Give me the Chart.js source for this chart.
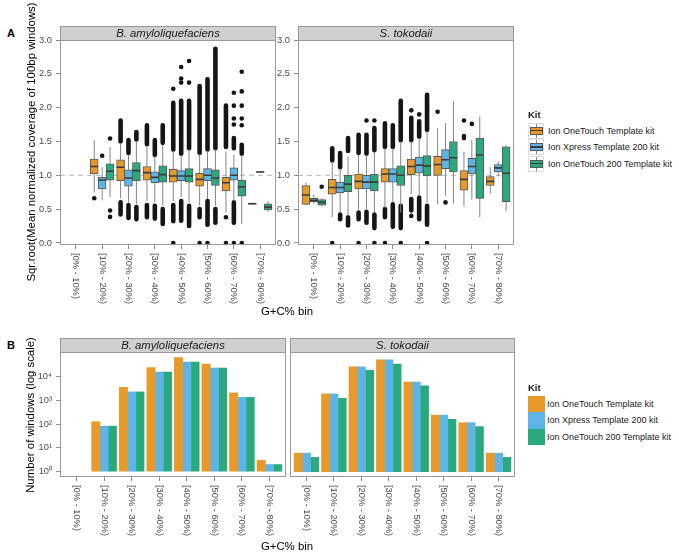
<!DOCTYPE html>
<html>
<head>
<meta charset="utf-8">
<script src="https://cdn.jsdelivr.net/npm/chart.js@4.4.1/dist/chart.umd.min.js"></script>
<style>
  body { margin: 0; width: 679px; height: 560px; overflow: hidden; position: relative; background: #fff;
         font-family: "Liberation Sans", Arial, sans-serif; }
  canvas { position: absolute; }
  .t { position: absolute; white-space: nowrap; color: #1a1a1a; line-height: 1; }
  .panel-tag { font-weight: bold; font-size: 11px; color: #000; }
  .ytitle { font-size: 11.4px; color: #000; transform: translate(-50%, -50%) rotate(-90deg); }
  .xtitle { font-size: 11.4px; color: #000; transform: translate(-50%, -50%); }
  .ktitle { font-weight: bold; font-size: 9.5px; transform: translateY(-50%); }
  .ktext { font-size: 9px; transform: translateY(-50%); }
  .key { position: absolute; box-sizing: border-box; }
</style>
</head>
<body>
<script>
/* global Chart */

// ---- data ----
const BINS = ["[0% - 10%)", "[10% - 20%)", "[20% - 30%)", "[30% - 40%)",
              "[40% - 50%)", "[50% - 60%)", "[60% - 70%)", "[70% - 80%)"];
const KITS = ["Ion OneTouch Template kit", "Ion Xpress Template 200 kit", "Ion OneTouch 200 Template kit"];
const SPECIES = ["B. amyloliquefaciens", "S. tokodaii"];
const COVERAGE_TICKS = [0, 0.5, 1, 1.5, 2, 2.5, 3];
const COUNT_TICKS = [1, 10, 100, 1000, 10000];

// panel A: [lower whisker, q1, median, q3, upper whisker] per G+C bin
const amyOneTouch = [null, [0.75, 1.02, 1.13, 1.24, 1.52], [0.66, 0.92, 1.12, 1.23, 1.47], [0.62, 0.93, 1.04, 1.13, 1.43],
  [0.62, 0.90, 0.99, 1.09, 1.36], [0.55, 0.84, 0.94, 1.03, 1.31], [0.45, 0.77, 0.89, 0.97, 1.35], [0.57, 0.575, 0.58, 0.588, 0.595]];
const amyXpress = [null, [0.63, 0.80, 0.93, 0.97, 1.12], [0.60, 0.84, 0.96, 1.08, 1.30], [0.60, 0.89, 0.97, 1.05, 1.28],
  [0.68, 0.92, 0.99, 1.07, 1.30], [0.65, 0.92, 1.00, 1.10, 1.36], [0.62, 0.93, 1.00, 1.11, 1.30], [1.04, 1.045, 1.05, 1.055, 1.06]];
const amyOneTouch200 = [null, [0.68, 0.93, 1.06, 1.17, 1.42], [0.57, 0.92, 1.07, 1.19, 1.50], [0.55, 0.90, 1.01, 1.14, 1.45],
  [0.60, 0.90, 0.99, 1.10, 1.38], [0.55, 0.85, 0.96, 1.08, 1.38], [0.28, 0.69, 0.83, 0.93, 1.30], [0.46, 0.49, 0.53, 0.58, 0.62]];

const tokOneTouch = [[0.56, 0.57, 0.71, 0.85, 0.89], [0.38, 0.72, 0.82, 0.94, 1.20], [0.50, 0.80, 0.91, 1.02, 1.30], [0.52, 0.90, 1.02, 1.10, 1.40],
  [0.72, 1.01, 1.13, 1.24, 1.50], [0.57, 1.00, 1.16, 1.28, 1.70], [0.54, 0.78, 0.94, 1.07, 1.35], [0.73, 0.85, 0.91, 0.98, 1.12]];
const tokXpress = [[0.58, 0.61, 0.63, 0.66, 0.71], [0.45, 0.74, 0.82, 0.90, 1.10], [0.50, 0.80, 0.90, 1.00, 1.30], [0.60, 0.90, 1.02, 1.10, 1.40],
  [0.70, 1.03, 1.15, 1.27, 1.55], [0.70, 1.10, 1.23, 1.38, 1.77], [0.64, 1.02, 1.13, 1.25, 1.52], [0.98, 1.05, 1.11, 1.16, 1.20]];
const tokOneTouch200 = [[0.54, 0.56, 0.60, 0.64, 0.66], [0.40, 0.76, 0.87, 1.00, 1.28], [0.45, 0.77, 0.90, 1.02, 1.35], [0.45, 0.85, 1.00, 1.14, 1.50],
  [0.60, 0.99, 1.14, 1.29, 1.65], [0.58, 1.05, 1.26, 1.50, 2.10], [0.38, 0.66, 1.30, 1.55, 1.87], [0.47, 0.61, 1.03, 1.42, 1.45]];

// dense runs of outliers: [bin, kit, from, to]
const amyOutlierRuns = [
  [2, 0, 1.50, 1.81], [2, 0, 0.42, 0.60], [2, 1, 1.33, 1.52], [2, 1, 0.37, 0.56], [2, 2, 1.53, 1.64], [2, 2, 0.35, 0.53],
  [3, 0, 1.46, 1.74], [3, 0, 0.38, 0.56], [3, 1, 1.30, 1.52], [3, 1, 0.36, 0.55], [3, 2, 1.48, 1.74], [3, 2, 0.28, 0.50],
  [4, 0, 1.38, 2.07], [4, 0, 0.32, 0.56], [4, 1, 1.32, 2.10], [4, 1, 0.33, 0.62], [4, 2, 1.40, 2.10], [4, 2, 0.25, 0.55],
  [5, 0, 1.33, 2.32], [5, 0, 0.38, 0.50], [5, 1, 1.38, 2.42], [5, 1, 0.27, 0.62], [5, 2, 1.40, 2.87], [5, 2, 0.30, 0.50],
  [6, 0, 1.42, 2.03], [6, 1, 1.40, 1.55], [6, 1, 0.30, 0.60], [6, 2, 1.32, 1.45]
];
const tokOutlierRuns = [
  [1, 0, 1.22, 1.40], [1, 1, 1.12, 1.33], [1, 1, 0.35, 0.42], [1, 2, 1.36, 1.55], [1, 2, 0.26, 0.38],
  [2, 0, 1.33, 1.60], [2, 0, 0.35, 0.45], [2, 1, 1.32, 1.60], [2, 1, 0.30, 0.46], [2, 2, 1.37, 1.70], [2, 2, 0.22, 0.42],
  [3, 0, 1.42, 1.77], [3, 0, 0.38, 0.50], [3, 1, 1.42, 1.74], [3, 1, 0.24, 0.57], [3, 2, 1.52, 2.10], [3, 2, 0.22, 0.55],
  [4, 0, 1.52, 1.85], [4, 0, 0.48, 0.65], [4, 1, 1.57, 1.80], [4, 1, 0.35, 0.67], [4, 2, 1.67, 2.19], [4, 2, 0.27, 0.55]
];
// single outliers: [bin, kit, value]
const amyOutlierPoints = [
  [1, 0, 0.66], [1, 1, 1.29], [1, 2, 1.545], [1, 2, 0.48], [1, 2, 0.385],
  [4, 0, 2.28], [4, 0, 0], [4, 1, 2.37], [4, 1, 2.43], [4, 1, 2.6], [4, 2, 2.37], [4, 2, 2.69],
  [5, 0, 0], [5, 1, 0], [6, 0, 0.38], [6, 0, 0],
  [6, 1, 1.75], [6, 1, 1.84], [6, 1, 2.03], [6, 1, 2.22], [6, 1, 0],
  [6, 2, 1.74], [6, 2, 1.84], [6, 2, 2.03], [6, 2, 2.24], [6, 2, 2.53], [6, 2, 0]
];
const tokOutlierPoints = [
  [0, 2, 0.83], [1, 0, 0], [2, 0, 0], [2, 1, 1.81], [2, 2, 1.81], [2, 2, 0], [3, 0, 0], [3, 2, 0],
  [4, 0, 1.96], [4, 0, 0.40], [4, 1, 1.90], [4, 2, 0], [5, 0, 1.94], [5, 1, 0.60],
  [6, 0, 1.81], [6, 0, 1.58], [6, 0, 1.55], [6, 1, 1.76]
];

// panel B: number of windows per bin
const amyCountOneTouch = [null, 125, 3470, 23700, 62000, 33000, 2040, 3];
const amyCountXpress = [null, 82, 2240, 15200, 40000, 22400, 1330, 2];
const amyCountOneTouch200 = [null, 82, 2240, 15200, 40000, 22400, 1330, 2];
const tokCountOneTouch = [6, 1850, 25000, 50000, 5850, 237, 114, 6];
const tokCountXpress = [6, 1850, 25000, 50000, 5850, 237, 114, 6];
const tokCountOneTouch200 = [4, 1200, 18000, 33000, 4000, 158, 78, 4];

// ---- style / layout ----
const KIT_COLORS = ["#E7992A", "#5CB5E6", "#2AA97C"];
const FONT = '"Liberation Sans", Arial, sans-serif';
const TICK_GREY = "#4d4d4d";
const YW = 40, PT = 20, PR = 6, XH = 70, DODGE = 0.3;

Chart.defaults.font.family = FONT;

const facetFrame = {
  id: "facetFrame",
  afterDraw(chart, args, opts) {
    const { ctx, chartArea: a } = chart;
    const xs = chart.scales.x;
    ctx.save();
    ctx.lineWidth = 1;
    ctx.fillStyle = "#d0d0d0";
    ctx.fillRect(a.left, a.top - 14, a.width, 14);
    ctx.strokeStyle = "#9a9a9a";
    ctx.strokeRect(a.left + 0.5, a.top - 13.5, a.width - 1, 14);
    ctx.strokeRect(a.left + 0.5, a.top + 0.5, a.width - 1, a.height - 1);
    ctx.fillStyle = "#1a1a1a";
    ctx.font = "italic 11.3px " + FONT;
    ctx.textAlign = "center";
    ctx.textBaseline = "middle";
    ctx.fillText(opts.title, (a.left + a.right) / 2, a.top - 6.5);
    // bin labels, turned to read downwards
    ctx.font = "9.3px " + FONT;
    ctx.fillStyle = TICK_GREY;
    ctx.textAlign = "left";
    BINS.forEach((lab, i) => {
      ctx.save();
      ctx.translate(xs.getPixelForValue(i), a.bottom + 8);
      ctx.rotate(Math.PI / 2);
      ctx.fillText(lab, 0, 0);
      ctx.restore();
    });
    ctx.restore();
  }
};

function placeCanvas(rect) {
  const c = document.createElement("canvas");
  const w = YW + rect.w + PR, h = PT + rect.h + XH;
  c.width = w; c.height = h;
  c.style.left = (rect.x - YW) + "px";
  c.style.top = (rect.y - PT) + "px";
  c.style.width = w + "px";
  c.style.height = h + "px";
  document.body.appendChild(c);
  return c;
}

function binScale() {
  return {
    type: "linear", min: -0.6, max: 7.6, offset: false,
    afterBuildTicks: s => { s.ticks = BINS.map((_, i) => ({ value: i })); },
    afterFit: s => { s.height = XH; },
    grid: { drawOnChartArea: false, drawTicks: true, tickLength: 4, color: "#8c8c8c", offset: false },
    border: { display: false },
    ticks: { display: false }
  };
}

function baseOptions(title, yScale) {
  return {
    responsive: false,
    animation: false,
    events: [],
    layout: { padding: { top: PT, right: PR, left: 0, bottom: 0 } },
    plugins: { legend: { display: false }, tooltip: { enabled: false }, facetFrame: { title } },
    scales: { x: binScale(), y: yScale }
  };
}

const kitX = (bin, kit) => bin + (kit - 1) * DODGE;

function boxChart(rect, title, stats, runs, points) {
  const whiskers = [], medians = [], runData = [];
  const boxes = stats.map((kitStats, k) => {
    const data = [];
    kitStats.forEach((s, i) => {
      if (!s) return;
      const x = kitX(i, k);
      whiskers.push({ x, y: s[0] }, { x, y: s[4] }, { x, y: null });
      medians.push({ x: x - DODGE / 2, y: s[2] }, { x: x + DODGE / 2, y: s[2] }, { x, y: null });
      data.push({ x, y: [s[1], s[3]] });
    });
    return {
      type: "bar", data, order: 5,
      backgroundColor: KIT_COLORS[k], borderColor: "#5a5a5a", borderWidth: 1, borderSkipped: false,
      grouped: false, categoryPercentage: 1, barPercentage: 1
    };
  });
  runs.forEach(([b, k, lo, hi]) => {
    const x = kitX(b, k);
    runData.push({ x, y: lo }, { x, y: hi }, { x, y: null });
  });
  const lineBase = { type: "line", pointRadius: 0, spanGaps: false, tension: 0, fill: false };
  const datasets = [
    { ...lineBase, data: [{ x: -0.6, y: 1 }, { x: 7.6, y: 1 }], borderColor: "#b5b5b5", borderWidth: 1, borderDash: [5, 4], order: 10 },
    { ...lineBase, data: runData, borderColor: "#151515", borderWidth: 4.6, borderCapStyle: "round", order: 9 },
    { type: "scatter", data: points.map(([b, k, v]) => ({ x: kitX(b, k), y: v })),
      pointRadius: 2.3, pointBackgroundColor: "#151515", pointBorderWidth: 0, clip: false, order: 8 },
    { ...lineBase, data: whiskers, borderColor: "#858585", borderWidth: 1, order: 7 },
    ...boxes,
    { ...lineBase, data: medians, borderColor: "#3a3a3a", borderWidth: 1.6, order: 1 }
  ];
  const yScale = {
    type: "linear", min: -0.03, max: 3.0,
    afterBuildTicks: s => { s.ticks = COVERAGE_TICKS.map(v => ({ value: v })); },
    afterFit: s => { s.width = YW; },
    grid: { drawOnChartArea: false, tickLength: 4, color: "#8c8c8c" },
    border: { display: false },
    ticks: { padding: 4, color: TICK_GREY, font: { size: 9.3 }, callback: v => Number(v).toFixed(1) }
  };
  new Chart(placeCanvas(rect), {
    type: "bar",
    data: { datasets },
    options: baseOptions(title, yScale),
    plugins: [facetFrame]
  });
}

const SUP = { 0: "\u2070", 1: "\u00b9", 2: "\u00b2", 3: "\u00b3", 4: "\u2074" };

function countChart(rect, title, counts, showY) {
  const datasets = counts.map((arr, k) => ({
    type: "bar",
    data: arr.map((v, i) => (v == null ? null : { x: kitX(i, k), y: v })).filter(Boolean),
    backgroundColor: KIT_COLORS[k], borderWidth: 0, base: 1,
    grouped: false, categoryPercentage: 1, barPercentage: 1
  }));
  const yScale = {
    type: "logarithmic", min: 0.645, max: 106000,
    afterBuildTicks: s => { s.ticks = COUNT_TICKS.map(v => ({ value: v })); },
    afterFit: s => { s.width = YW; },
    grid: { display: showY, drawOnChartArea: false, tickLength: 4, color: "#8c8c8c" },
    border: { display: false },
    ticks: { display: showY, padding: 4, color: TICK_GREY, font: { size: 9.3 },
             callback: v => "10" + SUP[Math.round(Math.log10(v))] }
  };
  new Chart(placeCanvas(rect), {
    type: "bar",
    data: { datasets },
    options: baseOptions(title, yScale),
    plugins: [facetFrame]
  });
}

boxChart({ x: 60, y: 40, w: 216, h: 205 }, SPECIES[0], [amyOneTouch, amyXpress, amyOneTouch200], amyOutlierRuns, amyOutlierPoints);
boxChart({ x: 298, y: 40, w: 216, h: 205 }, SPECIES[1], [tokOneTouch, tokXpress, tokOneTouch200], tokOutlierRuns, tokOutlierPoints);
countChart({ x: 60, y: 352, w: 226, h: 125 }, SPECIES[0], [amyCountOneTouch, amyCountXpress, amyCountOneTouch200], true);
countChart({ x: 290, y: 352, w: 225, h: 125 }, SPECIES[1], [tokCountOneTouch, tokCountXpress, tokCountOneTouch200], false);

// ---- titles and legends ----
function text(str, cls, x, y) {
  const d = document.createElement("div");
  d.className = "t " + cls;
  d.textContent = str;
  d.style.left = x + "px";
  d.style.top = y + "px";
  document.body.appendChild(d);
  return d;
}
function box(x, y, w, h, css) {
  const d = document.createElement("div");
  d.className = "key";
  Object.assign(d.style, { left: x + "px", top: y + "px", width: w + "px", height: h + "px" }, css);
  document.body.appendChild(d);
}

text("A", "panel-tag", 7, 28);
text("B", "panel-tag", 7, 340);
text("Sqr.root(Mean normalized coverage of 100bp windows)", "ytitle", 32, 142);
text("Number of windows (log scale)", "ytitle", 30.5, 414.5);
text("G+C% bin", "xtitle", 287, 311.7);
text("G+C% bin", "xtitle", 287, 546.7);

// legend A: boxplot keys
text("Kit", "ktitle", 528, 115);
KITS.forEach((kit, k) => {
  const cy = 130.7 + k * 16.4;
  box(528, cy - 8, 16, 16, { border: "1px solid #dedede", background: "#fff" });
  box(535.5, cy - 7, 1, 14, { background: "#858585" });
  box(529.5, cy - 4, 13, 8, { background: KIT_COLORS[k], border: "1px solid #5a5a5a" });
  box(529.5, cy - 0.8, 13, 1.6, { background: "#3a3a3a" });
  text(kit, "ktext", 548, cy);
});

// legend B: filled squares
text("Kit", "ktitle", 528, 388.3);
KITS.forEach((kit, k) => {
  const cy = 404 + k * 16.4;
  box(528, cy - 8.2, 17, 16.4, { background: KIT_COLORS[k] });
  text(kit, "ktext", 547, cy);
});
</script>
</body>
</html>
